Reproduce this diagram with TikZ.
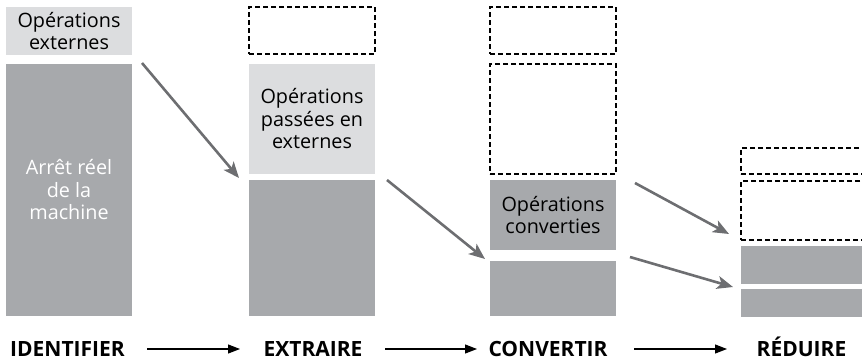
\documentclass[tikz,border=0pt]{standalone}
\usepackage{fontspec}
\setmainfont{Open Sans}
\usetikzlibrary{arrows.meta}
\definecolor{darkg}{HTML}{A7A9AC}
\definecolor{lightg}{HTML}{DCDDDF}
\definecolor{arrowg}{HTML}{6D6E71}
\newcommand{\boxfont}{\fontsize{19.8}{22.5}\selectfont}
\newcommand{\labfont}{\fontsize{21}{24}\selectfont\bfseries}
\tikzset{
  basebox/.style={minimum width=126pt, inner sep=0pt, align=center, font=\boxfont, text=black},
  lightbox/.style={basebox, fill=lightg},
  darkbox/.style={basebox, fill=darkg},
  dashbox/.style={basebox, draw=black, line width=1.1pt, dash pattern=on 5pt off 3pt},
  grayarrow/.style={draw=arrowg, line width=2.6pt, -{Stealth[length=16pt,width=13pt,inset=4pt]}},
  blackarrow/.style={draw=black, line width=1.1pt, -{Triangle[length=12pt,width=9pt]}},
  steplabel/.style={font=\labfont, anchor=base, inner sep=0pt}
}
\begin{document}
\begin{tikzpicture}[x=1pt,y=-1pt]
\useasboundingbox (0,0) rectangle (862,362);
\clip (0,0) rectangle (862,362);
% column 1
\node[lightbox, minimum height=48pt] (a1) at (69,31) {Opérations\\externes};
\node[darkbox, minimum height=252pt, text=white] (a2) at (69,190) {Arrêt réel\\de la\\machine};
% column 2
\node[dashbox, minimum height=47pt] (b0) at (312,30.5) {};
\node[lightbox, minimum height=110pt] (b1) at (312,119) {Opérations\\passées en\\externes};
\node[darkbox, minimum height=136pt] (b2) at (312,248) {};
% column 3
\node[dashbox, minimum height=47pt] (c0) at (553,30.5) {};
\node[dashbox, minimum height=110pt] (c1) at (553,119) {};
\node[darkbox, minimum height=70pt] (c2) at (553,215) {Opérations\\converties};
\node[darkbox, minimum height=55pt] (c3) at (553,288.5) {};
% column 4
\node[dashbox, minimum height=26pt] (d0) at (804,161) {};
\node[dashbox, minimum height=59pt] (d1) at (804,210.5) {};
\node[darkbox, minimum height=38pt] (d2) at (804,265) {};
\node[darkbox, minimum height=28pt] (d3) at (804,303) {};
% gray arrows
\coordinate (g1s) at (142,63);  \coordinate (g1e) at (239,178);
\coordinate (g2s) at (387,180); \coordinate (g2e) at (485,259);
\coordinate (g3s) at (635,183); \coordinate (g3e) at (729,234);
\coordinate (g4s) at (630,257); \coordinate (g4e) at (733,287);
\draw[grayarrow] (g1s) -- (g1e);
\draw[grayarrow] (g2s) -- (g2e);
\draw[grayarrow] (g3s) -- (g3e);
\draw[grayarrow] (g4s) -- (g4e);
% step labels
\node[steplabel] (l1) at (67.5,356) {IDENTIFIER};
\node[steplabel] (l2) at (313,356) {EXTRAIRE};
\node[steplabel] (l3) at (548,356) {CONVERTIR};
\node[steplabel] (l4) at (801.5,356) {RÉDUIRE};
\coordinate (k1s) at (147,349); \coordinate (k1e) at (240,349);
\coordinate (k2s) at (385,349); \coordinate (k2e) at (477,349);
\coordinate (k3s) at (634,349); \coordinate (k3e) at (727,349);
\draw[blackarrow] (k1s) -- (k1e);
\draw[blackarrow] (k2s) -- (k2e);
\draw[blackarrow] (k3s) -- (k3e);
\end{tikzpicture}
\end{document}
